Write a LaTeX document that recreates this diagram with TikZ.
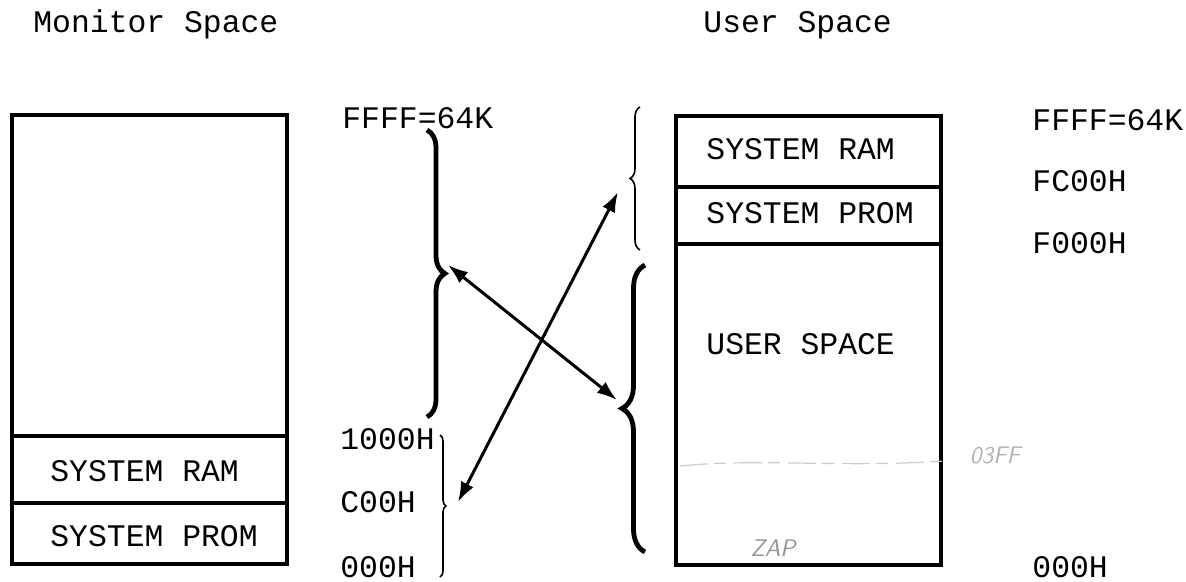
\documentclass[tikz,border=0pt]{standalone}
\usepackage{fontspec}
\setmonofont{Liberation Mono}
\usetikzlibrary{arrows.meta,decorations.pathreplacing}

\begin{document}
\begin{tikzpicture}[
  x=0.5pt, y=-0.5pt,
  frame/.style={line width=2pt, line join=miter},
  divider/.style={line width=1.8pt},
  label/.style={font=\ttfamily\fontsize{15.7}{18}\selectfont, anchor=base west,
                inner sep=0pt},
  bracethick/.style={decorate, line width=2.4pt,
                     decoration={brace, amplitude=#1}},
  bracethin/.style={decorate, line width=0.8pt,
                    decoration={brace, amplitude=#1}},
  swap/.style={arrows={Latex[length=10pt,width=7pt]-Latex[length=10pt,width=7pt]},
               line width=1.5pt},
  scribble/.style={text=gray!60, font=\sffamily\itshape\fontsize{12}{14}\selectfont,
                   inner sep=0pt},
]
\useasboundingbox (0,0) rectangle (1186,582);
% --- Titulos -----------------------------------------------------------------
\node[label] (montitle) at (33,33) {Monitor Space};
\node[label] (usrtitle) at (703,33) {User Space};
% --- Mapa del monitor --------------------------------------------------------
\draw[frame] (12,115) rectangle (287,564);
\draw[divider] (12,436) -- (287,436);
\draw[divider] (12,503) -- (287,503);
\node[label] (monram) at (50,481) {SYSTEM RAM};
\node[label] (monprom) at (50,546) {SYSTEM PROM};
\node[label] (mtop) at (342,129) {FFFF=64K};
\node[label] (m1000) at (340,449) {1000H};
\node[label] (mc00) at (340,512) {C00H};
\node[label] (m000) at (340,577) {000H};
% --- Mapa del usuario --------------------------------------------------------
\draw[frame] (676,116) rectangle (941,565);
\draw[divider] (676,187) -- (941,187);
\draw[divider] (676,244) -- (941,244);
\node[label] (usrram) at (706,160) {SYSTEM RAM};
\node[label] (usrprom) at (706,224) {SYSTEM PROM};
\node[label] (usrspace) at (706,354) {USER SPACE};
\node[label] (utop) at (1032,131) {FFFF=64K};
\node[label] (ufc00) at (1032,192) {FC00H};
\node[label] (uf000) at (1032,254) {F000H};
\node[label] (u000) at (1032,577) {000H};
% notas a mano
\draw[gray!40, line width=0.6pt, dash pattern=on 14pt off 3pt on 6pt off 4pt]
  (680,466) .. controls (760,458) and (840,468) .. (945,461);
\node[scribble] (u03ff) at (995,455) {03FF};
\node[scribble, text=gray!85] (zap) at (773,548) {ZAP};
% --- Llaves ------------------------------------------------------------------
\draw[bracethick=9pt] (427,130) -- (427,417);
\draw[bracethin=3pt] (440,435) -- (440,577);
\draw[bracethin=5pt] (640,250) -- (640,107);
\draw[bracethick=11.5pt] (645,552) -- (645,265);
% --- Flechas -----------------------------------------------------------------
\coordinate (montip) at (448,265);
\coordinate (lowtip) at (458,502);
\coordinate (usrhi) at (618,192);
\coordinate (usrlo) at (617,400);
\draw[swap] (montip) -- (usrlo);
\draw[swap] (lowtip) -- (usrhi);
\end{tikzpicture}
\end{document}
